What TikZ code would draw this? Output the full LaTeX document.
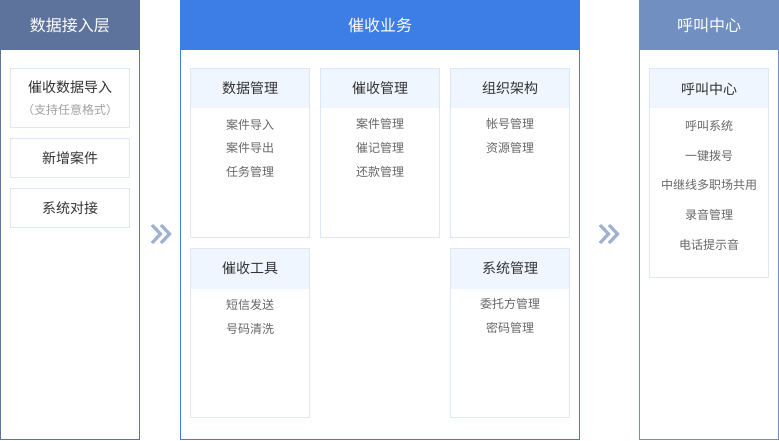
\documentclass[tikz,border=0pt]{standalone}
\usepackage{fontspec}
\setmainfont{Noto Sans CJK SC}

\definecolor{leftslate}{RGB}{94,115,155}
\definecolor{midblue}{RGB}{61,125,230}
\definecolor{rightslate}{RGB}{113,143,192}
\definecolor{boxline}{RGB}{220,232,250}
\definecolor{boxhead}{RGB}{240,246,255}
\definecolor{chevron}{RGB}{160,177,208}
\definecolor{titletext}{RGB}{51,51,51}
\definecolor{itemtext}{RGB}{102,102,102}
\definecolor{notetext}{RGB}{160,160,160}

\tikzset{every picture/.style={line width=0.75pt}}
\tikzset{
  headtext/.style={inner sep=0.75pt, color=white, font=\fontsize{12}{14}\selectfont},
  titletxt/.style={inner sep=0.75pt, color=titletext, font=\fontsize{10.5}{12}\selectfont},
  itemtxt/.style={inner sep=0.75pt, color=itemtext, font=\fontsize{9}{11}\selectfont},
  notetxt/.style={inner sep=0.75pt, color=notetext, font=\fontsize{9}{11}\selectfont},
  cardbox/.style={draw=boxline, fill=white},
  cardhead/.style={fill=boxhead},
  chevstroke/.style={draw=chevron, line width=2.4pt, line join=miter}
}

\begin{document}
\begin{tikzpicture}[x=0.75pt,y=0.75pt,yscale=-1,xscale=1]
        \useasboundingbox (0,0) rectangle (779,440);

        %Shape: Rectangle [left panel]
        \draw [color=leftslate, fill=white] (0.5,0.5) rectangle (139.5,439.5);
        \fill [leftslate] (0,0) rectangle (140,50);
        %Shape: Rectangle [middle panel]
        \draw [color=midblue, fill=white] (180.5,0.5) rectangle (579.5,439.5);
        \fill [midblue] (180,0) rectangle (580,50);
        %Shape: Rectangle [right panel]
        \draw [color=rightslate, fill=white] (639.5,0.5) rectangle (778.5,439.5);
        \fill [rightslate] (639,0) rectangle (779,50);

        %Shape: Rectangle [left cards]
        \draw [cardbox] (10.5,68.5) rectangle (129.5,127.5);
        \draw [cardbox] (10.5,138.5) rectangle (129.5,177.5);
        \draw [cardbox] (10.5,188.5) rectangle (129.5,227.5);

        %Shape: Rectangle [middle cards]
        \draw [cardbox] (190.5,68.5) rectangle (309.5,237.5);
        \fill [cardhead] (191,69) rectangle (309,108);
        \draw [cardbox] (320.5,68.5) rectangle (439.5,237.5);
        \fill [cardhead] (321,69) rectangle (439,108);
        \draw [cardbox] (450.5,68.5) rectangle (569.5,237.5);
        \fill [cardhead] (451,69) rectangle (569,108);
        \draw [cardbox] (190.5,248.5) rectangle (309.5,417.5);
        \fill [cardhead] (191,249) rectangle (309,289);
        \draw [cardbox] (450.5,248.5) rectangle (569.5,417.5);
        \fill [cardhead] (451,249) rectangle (569,289);

        %Shape: Rectangle [right card]
        \draw [cardbox] (649.5,68.5) rectangle (768.5,277.5);
        \fill [cardhead] (650,69) rectangle (768,108);

        %Straight Lines [chevrons]
        \draw [chevstroke] (152,225) -- (160.5,234) -- (152,243) ;
        \draw [chevstroke] (161,225) -- (169.5,234) -- (161,243) ;
        \draw [chevstroke] (600,225) -- (608.5,234) -- (600,243) ;
        \draw [chevstroke] (609,225) -- (617.5,234) -- (609,243) ;

        % Text Node
        \node [headtext] (leftHead) at (70,25) {数据接入层};
        % Text Node
        \node [headtext] (midHead) at (380,25) {催收业务};
        % Text Node
        \node [headtext] (rightHead) at (709,25) {呼叫中心};

        % Text Node
        \node [titletxt] (importCase) at (70,87) {催收数据导入};
        % Text Node
        \node [notetxt] (importNote) at (70,110) {（支持任意格式）};
        % Text Node
        \node [titletxt] (newCase) at (70,158) {新增案件};
        % Text Node
        \node [titletxt] (sysLink) at (70,208) {系统对接};

        % Text Node
        \node [titletxt] (dataMgmt) at (250,88) {数据管理};
        % Text Node
        \node [itemtxt] (caseIn) at (250,125) {案件导入};
        % Text Node
        \node [itemtxt] (caseOut) at (250,148) {案件导出};
        % Text Node
        \node [itemtxt] (taskMgmt) at (250,172) {任务管理};

        % Text Node
        \node [titletxt] (collectMgmt) at (380,88) {催收管理};
        % Text Node
        \node [itemtxt] (caseMgmt) at (380,124) {案件管理};
        % Text Node
        \node [itemtxt] (noteMgmt) at (380,148) {催记管理};
        % Text Node
        \node [itemtxt] (repayMgmt) at (380,172) {还款管理};

        % Text Node
        \node [titletxt] (orgChart) at (510,88) {组织架构};
        % Text Node
        \node [itemtxt] (acctMgmt) at (510,124) {帐号管理};
        % Text Node
        \node [itemtxt] (resMgmt) at (510,148) {资源管理};

        % Text Node
        \node [titletxt] (collectTools) at (250,268) {催收工具};
        % Text Node
        \node [itemtxt] (smsSend) at (250,305) {短信发送};
        % Text Node
        \node [itemtxt] (numClean) at (250,329) {号码清洗};

        % Text Node
        \node [titletxt] (sysMgmt) at (510,268) {系统管理};
        % Text Node
        \node [itemtxt] (clientMgmt) at (510,304) {委托方管理};
        % Text Node
        \node [itemtxt] (pwdMgmt) at (510,328) {密码管理};

        % Text Node
        \node [titletxt] (callCenter) at (709,89) {呼叫中心};
        % Text Node
        \node [itemtxt] (callSys) at (709,126) {呼叫系统};
        % Text Node
        \node [itemtxt] (oneDial) at (709,156) {一键拨号};
        % Text Node
        \node [itemtxt] (trunkShare) at (709,185) {中继线多职场共用};
        % Text Node
        \node [itemtxt] (recMgmt) at (709,215) {录音管理};
        % Text Node
        \node [itemtxt] (toneHint) at (709,245) {电话提示音};
\end{tikzpicture}
\end{document}
